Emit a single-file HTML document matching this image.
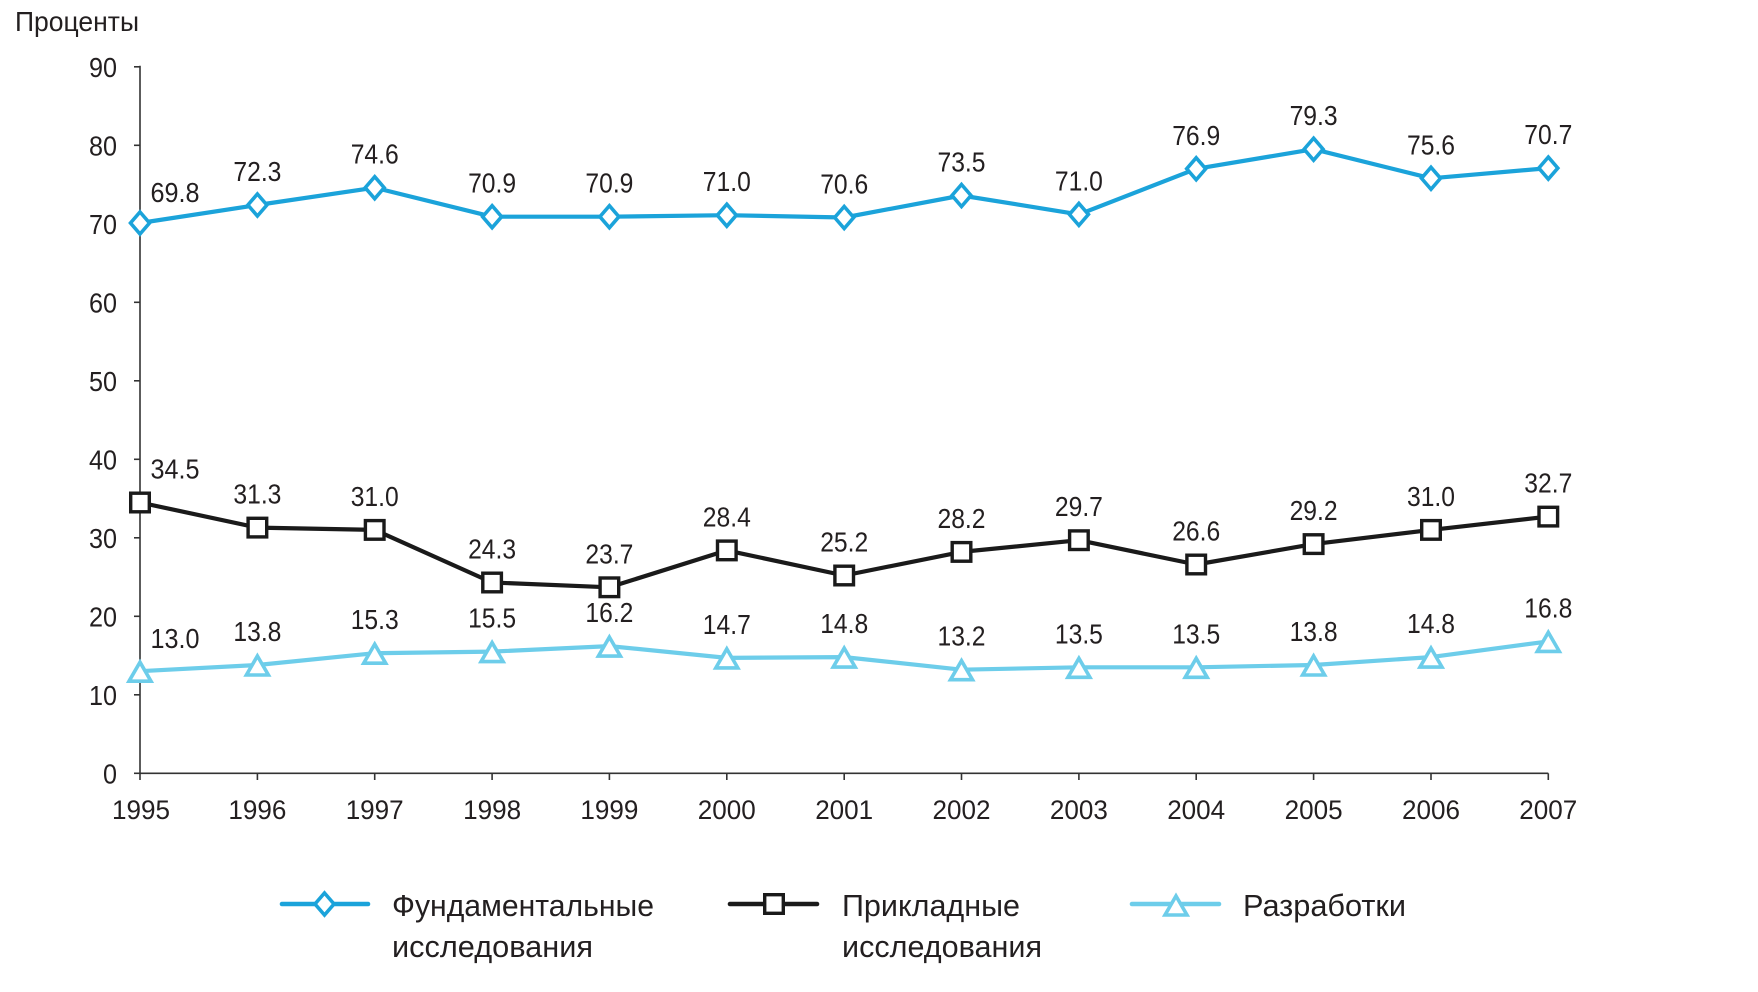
<!DOCTYPE html>
<html>
<head>
<meta charset="utf-8">
<style>
html,body{margin:0;padding:0;background:#fff;}
svg{display:block;}
text{font-family:"Liberation Sans","DejaVu Sans",sans-serif;fill:#231f20;}
</style>
</head>
<body>
<svg width="1758" height="992" viewBox="0 0 1758 992" xmlns="http://www.w3.org/2000/svg">
<defs>
  <path id="dia" d="M0,-11 L9.5,0 L0,11 L-9.5,0 Z" fill="#fff" stroke="#1ba3da" stroke-width="3.6" stroke-linejoin="miter"/>
  <rect id="sq" x="-9.3" y="-9.3" width="18.6" height="18.6" fill="#fff" stroke="#1a1a1a" stroke-width="3.4"/>
  <path id="tri" d="M0,-9 L11,10 L-11,10 Z" fill="#fff" stroke="#6dcdea" stroke-width="3.6" stroke-linejoin="miter"/>
</defs>

<!-- Y label -->
<text x="15" y="31" font-size="28" textLength="124" lengthAdjust="spacingAndGlyphs">Проценты</text>

<!-- axes -->
<g stroke="#333" stroke-width="1.6" fill="none">
  <line x1="140" y1="65.8" x2="140" y2="773.3"/>
  <line x1="140" y1="773.3" x2="1548.3" y2="773.3"/>
  <line x1="134" y1="66.8" x2="140" y2="66.8"/>
  <line x1="134" y1="145.3" x2="140" y2="145.3"/>
  <line x1="134" y1="223.8" x2="140" y2="223.8"/>
  <line x1="134" y1="302.3" x2="140" y2="302.3"/>
  <line x1="134" y1="380.8" x2="140" y2="380.8"/>
  <line x1="134" y1="459.3" x2="140" y2="459.3"/>
  <line x1="134" y1="537.8" x2="140" y2="537.8"/>
  <line x1="134" y1="616.3" x2="140" y2="616.3"/>
  <line x1="134" y1="694.8" x2="140" y2="694.8"/>
  <line x1="134" y1="773.3" x2="140" y2="773.3"/>
  <line x1="140" y1="773.3" x2="140" y2="780"/>
  <line x1="257.4" y1="773.3" x2="257.4" y2="780"/>
  <line x1="374.7" y1="773.3" x2="374.7" y2="780"/>
  <line x1="492.1" y1="773.3" x2="492.1" y2="780"/>
  <line x1="609.4" y1="773.3" x2="609.4" y2="780"/>
  <line x1="726.8" y1="773.3" x2="726.8" y2="780"/>
  <line x1="844.2" y1="773.3" x2="844.2" y2="780"/>
  <line x1="961.5" y1="773.3" x2="961.5" y2="780"/>
  <line x1="1078.9" y1="773.3" x2="1078.9" y2="780"/>
  <line x1="1196.2" y1="773.3" x2="1196.2" y2="780"/>
  <line x1="1313.6" y1="773.3" x2="1313.6" y2="780"/>
  <line x1="1431" y1="773.3" x2="1431" y2="780"/>
  <line x1="1548.3" y1="773.3" x2="1548.3" y2="780"/>
</g>

<!-- y tick labels -->
<g font-size="28" text-anchor="end">
  <text x="117" y="76.8" textLength="28" lengthAdjust="spacingAndGlyphs">90</text>
  <text x="117" y="155.3" textLength="28" lengthAdjust="spacingAndGlyphs">80</text>
  <text x="117" y="233.8" textLength="28" lengthAdjust="spacingAndGlyphs">70</text>
  <text x="117" y="312.3" textLength="28" lengthAdjust="spacingAndGlyphs">60</text>
  <text x="117" y="390.8" textLength="28" lengthAdjust="spacingAndGlyphs">50</text>
  <text x="117" y="469.3" textLength="28" lengthAdjust="spacingAndGlyphs">40</text>
  <text x="117" y="547.8" textLength="28" lengthAdjust="spacingAndGlyphs">30</text>
  <text x="117" y="626.3" textLength="28" lengthAdjust="spacingAndGlyphs">20</text>
  <text x="117" y="704.8" textLength="28" lengthAdjust="spacingAndGlyphs">10</text>
  <text x="117" y="783.3" textLength="14" lengthAdjust="spacingAndGlyphs">0</text>
</g>

<!-- x labels -->
<g font-size="27" text-anchor="middle">
  <text x="141" y="819" textLength="58" lengthAdjust="spacingAndGlyphs">1995</text>
  <text x="257.4" y="819" textLength="58" lengthAdjust="spacingAndGlyphs">1996</text>
  <text x="374.7" y="819" textLength="58" lengthAdjust="spacingAndGlyphs">1997</text>
  <text x="492.1" y="819" textLength="58" lengthAdjust="spacingAndGlyphs">1998</text>
  <text x="609.4" y="819" textLength="58" lengthAdjust="spacingAndGlyphs">1999</text>
  <text x="726.8" y="819" textLength="58" lengthAdjust="spacingAndGlyphs">2000</text>
  <text x="844.2" y="819" textLength="58" lengthAdjust="spacingAndGlyphs">2001</text>
  <text x="961.5" y="819" textLength="58" lengthAdjust="spacingAndGlyphs">2002</text>
  <text x="1078.9" y="819" textLength="58" lengthAdjust="spacingAndGlyphs">2003</text>
  <text x="1196.2" y="819" textLength="58" lengthAdjust="spacingAndGlyphs">2004</text>
  <text x="1313.6" y="819" textLength="58" lengthAdjust="spacingAndGlyphs">2005</text>
  <text x="1431" y="819" textLength="58" lengthAdjust="spacingAndGlyphs">2006</text>
  <text x="1548.3" y="819" textLength="58" lengthAdjust="spacingAndGlyphs">2007</text>
</g>

<!-- series lines -->
<polyline fill="none" stroke="#6dcdea" stroke-width="4.2" stroke-linejoin="round"
  points="140,671.2 257.4,665 374.7,653.2 492.1,651.6 609.4,646.1 726.8,657.9 844.2,657.1 961.5,669.7 1078.9,667.3 1196.2,667.3 1313.6,665 1431,657.1 1548.3,641.4"/>
<polyline fill="none" stroke="#1a1a1a" stroke-width="4.2" stroke-linejoin="round"
  points="140,502.5 257.4,527.6 374.7,529.9 492.1,582.5 609.4,587.3 726.8,550.4 844.2,575.5 961.5,551.9 1078.9,540.2 1196.2,564.5 1313.6,544.1 1431,529.9 1548.3,516.6"/>
<polyline fill="none" stroke="#1ba3da" stroke-width="4.2" stroke-linejoin="round"
  points="140,223 257.4,205 374.7,187.7 492.1,216.7 609.4,216.7 726.8,215.2 844.2,217.5 961.5,195.5 1078.9,214.4 1196.2,168.8 1313.6,149.2 1431,178.3 1548.3,168.1"/>

<!-- markers -->
<g>
  <use href="#tri" x="140" y="671.2"/><use href="#tri" x="257.4" y="665"/><use href="#tri" x="374.7" y="653.2"/>
  <use href="#tri" x="492.1" y="651.6"/><use href="#tri" x="609.4" y="646.1"/><use href="#tri" x="726.8" y="657.9"/>
  <use href="#tri" x="844.2" y="657.1"/><use href="#tri" x="961.5" y="669.7"/><use href="#tri" x="1078.9" y="667.3"/>
  <use href="#tri" x="1196.2" y="667.3"/><use href="#tri" x="1313.6" y="665"/><use href="#tri" x="1431" y="657.1"/>
  <use href="#tri" x="1548.3" y="641.4"/>

  <use href="#sq" x="140" y="502.5"/><use href="#sq" x="257.4" y="527.6"/><use href="#sq" x="374.7" y="529.9"/>
  <use href="#sq" x="492.1" y="582.5"/><use href="#sq" x="609.4" y="587.3"/><use href="#sq" x="726.8" y="550.4"/>
  <use href="#sq" x="844.2" y="575.5"/><use href="#sq" x="961.5" y="551.9"/><use href="#sq" x="1078.9" y="540.2"/>
  <use href="#sq" x="1196.2" y="564.5"/><use href="#sq" x="1313.6" y="544.1"/><use href="#sq" x="1431" y="529.9"/>
  <use href="#sq" x="1548.3" y="516.6"/>

  <use href="#dia" x="140" y="223"/><use href="#dia" x="257.4" y="205"/><use href="#dia" x="374.7" y="187.7"/>
  <use href="#dia" x="492.1" y="216.7"/><use href="#dia" x="609.4" y="216.7"/><use href="#dia" x="726.8" y="215.2"/>
  <use href="#dia" x="844.2" y="217.5"/><use href="#dia" x="961.5" y="195.5"/><use href="#dia" x="1078.9" y="214.4"/>
  <use href="#dia" x="1196.2" y="168.8"/><use href="#dia" x="1313.6" y="149.2"/><use href="#dia" x="1431" y="178.3"/>
  <use href="#dia" x="1548.3" y="168.1"/>
</g>

<!-- data labels -->
<g font-size="28" text-anchor="middle">
  <text x="175" y="202" textLength="49" lengthAdjust="spacingAndGlyphs">69.8</text>
  <text x="257.4" y="181" textLength="48" lengthAdjust="spacingAndGlyphs">72.3</text>
  <text x="374.7" y="163.7" textLength="48" lengthAdjust="spacingAndGlyphs">74.6</text>
  <text x="492.1" y="192.7" textLength="48" lengthAdjust="spacingAndGlyphs">70.9</text>
  <text x="609.4" y="192.7" textLength="48" lengthAdjust="spacingAndGlyphs">70.9</text>
  <text x="726.8" y="191.2" textLength="48" lengthAdjust="spacingAndGlyphs">71.0</text>
  <text x="844.2" y="193.5" textLength="48" lengthAdjust="spacingAndGlyphs">70.6</text>
  <text x="961.5" y="171.5" textLength="48" lengthAdjust="spacingAndGlyphs">73.5</text>
  <text x="1078.9" y="190.4" textLength="48" lengthAdjust="spacingAndGlyphs">71.0</text>
  <text x="1196.2" y="144.8" textLength="48" lengthAdjust="spacingAndGlyphs">76.9</text>
  <text x="1313.6" y="125.2" textLength="48" lengthAdjust="spacingAndGlyphs">79.3</text>
  <text x="1431" y="154.3" textLength="48" lengthAdjust="spacingAndGlyphs">75.6</text>
  <text x="1548.3" y="144.1" textLength="48" lengthAdjust="spacingAndGlyphs">70.7</text>

  <text x="175" y="478.5" textLength="49" lengthAdjust="spacingAndGlyphs">34.5</text>
  <text x="257.4" y="503.6" textLength="48" lengthAdjust="spacingAndGlyphs">31.3</text>
  <text x="374.7" y="505.9" textLength="48" lengthAdjust="spacingAndGlyphs">31.0</text>
  <text x="492.1" y="558.5" textLength="48" lengthAdjust="spacingAndGlyphs">24.3</text>
  <text x="609.4" y="563.3" textLength="48" lengthAdjust="spacingAndGlyphs">23.7</text>
  <text x="726.8" y="526.4" textLength="48" lengthAdjust="spacingAndGlyphs">28.4</text>
  <text x="844.2" y="551.5" textLength="48" lengthAdjust="spacingAndGlyphs">25.2</text>
  <text x="961.5" y="527.9" textLength="48" lengthAdjust="spacingAndGlyphs">28.2</text>
  <text x="1078.9" y="516.2" textLength="48" lengthAdjust="spacingAndGlyphs">29.7</text>
  <text x="1196.2" y="540.5" textLength="48" lengthAdjust="spacingAndGlyphs">26.6</text>
  <text x="1313.6" y="520.1" textLength="48" lengthAdjust="spacingAndGlyphs">29.2</text>
  <text x="1431" y="505.9" textLength="48" lengthAdjust="spacingAndGlyphs">31.0</text>
  <text x="1548.3" y="492.6" textLength="48" lengthAdjust="spacingAndGlyphs">32.7</text>

  <text x="175" y="648" textLength="49" lengthAdjust="spacingAndGlyphs">13.0</text>
  <text x="257.4" y="641" textLength="48" lengthAdjust="spacingAndGlyphs">13.8</text>
  <text x="374.7" y="629.2" textLength="48" lengthAdjust="spacingAndGlyphs">15.3</text>
  <text x="492.1" y="627.6" textLength="48" lengthAdjust="spacingAndGlyphs">15.5</text>
  <text x="609.4" y="622.1" textLength="48" lengthAdjust="spacingAndGlyphs">16.2</text>
  <text x="726.8" y="633.9" textLength="48" lengthAdjust="spacingAndGlyphs">14.7</text>
  <text x="844.2" y="633.1" textLength="48" lengthAdjust="spacingAndGlyphs">14.8</text>
  <text x="961.5" y="645.7" textLength="48" lengthAdjust="spacingAndGlyphs">13.2</text>
  <text x="1078.9" y="643.3" textLength="48" lengthAdjust="spacingAndGlyphs">13.5</text>
  <text x="1196.2" y="643.3" textLength="48" lengthAdjust="spacingAndGlyphs">13.5</text>
  <text x="1313.6" y="641" textLength="48" lengthAdjust="spacingAndGlyphs">13.8</text>
  <text x="1431" y="633.1" textLength="48" lengthAdjust="spacingAndGlyphs">14.8</text>
  <text x="1548.3" y="617.4" textLength="48" lengthAdjust="spacingAndGlyphs">16.8</text>
</g>

<!-- legend -->
<g>
  <line x1="282" y1="904" x2="368" y2="904" stroke="#1ba3da" stroke-width="4.6" stroke-linecap="round"/>
  <use href="#dia" x="324.5" y="904"/>
  <line x1="730" y1="904" x2="817" y2="904" stroke="#1a1a1a" stroke-width="4.6" stroke-linecap="round"/>
  <use href="#sq" x="774" y="904"/>
  <line x1="1132" y1="904" x2="1219" y2="904" stroke="#6dcdea" stroke-width="4.6" stroke-linecap="round"/>
  <use href="#tri" x="1176" y="905"/>
</g>
<g font-size="31">
  <text x="392" y="916" textLength="262" lengthAdjust="spacingAndGlyphs">Фундаментальные</text>
  <text x="392" y="957" textLength="201" lengthAdjust="spacingAndGlyphs">исследования</text>
  <text x="842" y="916" textLength="178" lengthAdjust="spacingAndGlyphs">Прикладные</text>
  <text x="842" y="957" textLength="200" lengthAdjust="spacingAndGlyphs">исследования</text>
  <text x="1243" y="916" textLength="163" lengthAdjust="spacingAndGlyphs">Разработки</text>
</g>
</svg>
</body>
</html>
